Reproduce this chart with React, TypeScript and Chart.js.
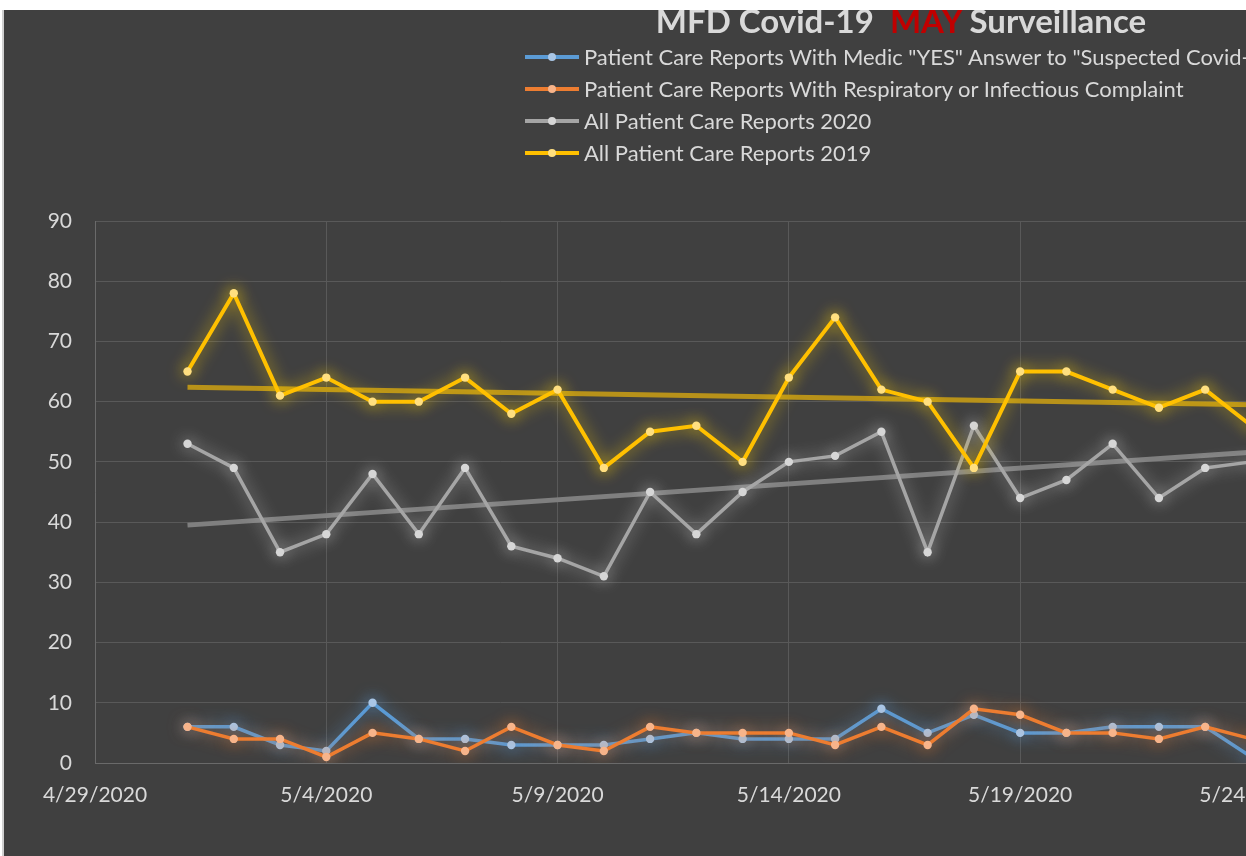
import React, { useEffect, useRef } from "react";
import { Chart, registerables } from "chart.js";

Chart.register(...registerables);

// ---- data ----
const dates = [
  "5/1/2020", "5/2/2020", "5/3/2020", "5/4/2020", "5/5/2020", "5/6/2020",
  "5/7/2020", "5/8/2020", "5/9/2020", "5/10/2020", "5/11/2020", "5/12/2020",
  "5/13/2020", "5/14/2020", "5/15/2020", "5/16/2020", "5/17/2020", "5/18/2020",
  "5/19/2020", "5/20/2020", "5/21/2020", "5/22/2020", "5/23/2020", "5/24/2020",
];
const suspectedCovid = [6, 6, 3, 2, 10, 4, 4, 3, 3, 3, 4, 5, 4, 4, 4, 9, 5, 8, 5, 5, 6, 6, 6, 1];
const respiratory = [6, 4, 4, 1, 5, 4, 2, 6, 3, 2, 6, 5, 5, 5, 3, 6, 3, 9, 8, 5, 5, 4, 6, 4];
const all2020 = [53, 49, 35, 38, 48, 38, 49, 36, 34, 31, 45, 38, 45, 50, 51, 55, 35, 56, 44, 47, 53, 44, 49, 50];
const all2019 = [65, 78, 61, 64, 60, 60, 64, 58, 62, 49, 55, 56, 50, 64, 74, 62, 60, 49, 65, 65, 62, 59, 62, 56];
// linear trend lines: values at first and last date
const trend2019 = [62.4, 59.5];
const trend2020 = [39.5, 51.6];

const seriesNames = [
  'Patient Care Reports With Medic "YES" Answer to "Suspected Covid-19"',
  "Patient Care Reports With Respiratory or Infectious Complaint",
  "All Patient Care Reports 2020",
  "All Patient Care Reports 2019",
];
const axisStart = "4/29/2020";
const axisEnd = "6/3/2020";
const xStepDays = 5;
const yMin = 0;
const yMax = 90;
const yStep = 10;

// ---- helpers ----
const DAY = 86400000;
function toUTC(s: string) {
  const [m, d, y] = s.split("/").map(Number);
  return Date.UTC(y, m - 1, d);
}
const base = toUTC(axisStart);
const dayIndex = (s: string) => Math.round((toUTC(s) - base) / DAY);
const dayLabel = (v: number) => {
  const d = new Date(base + v * DAY);
  return `${d.getUTCMonth() + 1}/${d.getUTCDate()}/${d.getUTCFullYear()}`;
};
const pts = (vals: number[]) => vals.map((y, i) => ({ x: dayIndex(dates[i]), y }));
const trendPts = (t: number[]) => [
  { x: dayIndex(dates[0]), y: t[0] },
  { x: dayIndex(dates[dates.length - 1]), y: t[1] },
];

const colors = {
  blue: "#5B9BD5",
  orange: "#ED7D31",
  gray: "#A5A5A5",
  yellow: "#FFC000",
};
const pointColors = ["#A9C6E6", "#F7B48A", "#D6D6D6", "#FFDF80"];
const lineColors = [colors.blue, colors.orange, colors.gray, colors.yellow];

const glowPlugin = {
  id: "glow",
  beforeDatasetDraw(chart: any, args: any) {
    const ds: any = chart.data.datasets[args.index];
    chart.ctx.save();
    if (ds.glowColor) {
      chart.ctx.shadowColor = ds.glowColor;
      chart.ctx.shadowBlur = ds.glowBlur || 10;
    }
  },
  afterDatasetDraw(chart: any) {
    chart.ctx.restore();
  },
};

const FONT = "Lato";
const TEXT = "#d9d9d9";
const CANVAS_W = 1790;
const CANVAS_H = 846;

export default function App() {
  const ref = useRef<HTMLCanvasElement>(null);

  useEffect(() => {
    const line = (i: number, data: number[], order: number, glow: string, w = 3.5) => ({
      label: seriesNames[i],
      data: pts(data),
      borderColor: lineColors[i],
      borderWidth: w,
      pointRadius: 4.2,
      pointBorderWidth: 0,
      pointBackgroundColor: pointColors[i],
      tension: 0,
      order,
      glowColor: glow,
      glowBlur: 16,
    });
    const chart = new Chart(ref.current as HTMLCanvasElement, {
      type: "line",
      data: {
        datasets: [
          line(3, all2019, 1, "rgba(255,210,0,0.8)", 4),
          {
            label: "trend 2019",
            data: trendPts(trend2019),
            borderColor: "#B8921A",
            borderWidth: 5,
            pointRadius: 0,
            order: 2,
          } as any,
          line(2, all2020, 3, "rgba(235,235,235,0.6)", 3.5),
          {
            label: "trend 2020",
            data: trendPts(trend2020),
            borderColor: "#7F7F7F",
            borderWidth: 5,
            pointRadius: 0,
            order: 4,
          } as any,
          line(1, respiratory, 5, "rgba(237,125,49,0.75)", 3.5),
          line(0, suspectedCovid, 6, "rgba(91,155,213,0.85)", 3.5),
        ] as any,
      },
      options: {
        responsive: false,
        devicePixelRatio: 1,
        animation: false,
        layout: { padding: { left: 0, top: 211, right: 80, bottom: 43 } },
        plugins: {
          legend: { display: false },
          title: { display: false },
          tooltip: { enabled: false },
        },
        scales: {
          x: {
            type: "linear",
            min: dayIndex(axisStart),
            max: dayIndex(axisEnd),
            afterFit: (s: any) => {
              s.height = 50;
            },
            ticks: {
              stepSize: xStepDays,
              padding: 20,
              color: TEXT,
              font: { family: FONT, size: 21 },
              maxRotation: 0,
              autoSkip: false,
              callback: (v: any) => dayLabel(Number(v)),
            },
            grid: { color: "#595959", lineWidth: 1, drawTicks: false },
            border: { color: "#6a6a6a", width: 1 },
          },
          y: {
            min: yMin,
            max: yMax,
            afterFit: (s: any) => {
              s.width = 91;
            },
            ticks: {
              stepSize: yStep,
              padding: 23,
              color: TEXT,
              font: { family: FONT, size: 21 },
            },
            grid: { color: "#595959", lineWidth: 1, drawTicks: false },
            border: { color: "#6a6a6a", width: 1 },
          },
        },
      } as any,
      plugins: [glowPlugin as any],
    });
    return () => chart.destroy();
  }, []);

  return (
    <div
      style={{
        position: "fixed",
        left: 2,
        top: 10,
        width: 1244,
        height: 846,
        borderLeft: "2px solid #d0d0d0",
        boxSizing: "border-box",
        background: "#404040",
        overflow: "hidden",
      }}
    >
      <canvas
        ref={ref}
        width={CANVAS_W}
        height={CANVAS_H}
        style={{ position: "absolute", left: 0, top: 0, width: CANVAS_W, height: CANVAS_H }}
      />
      <div
        style={{
          position: "absolute",
          left: 897,
          top: -6,
          transform: "translateX(-50%)",
          whiteSpace: "nowrap",
          fontFamily: FONT,
          fontWeight: 700,
          fontSize: 33,
          lineHeight: "33px",
          color: TEXT,
        }}
      >
        MFD Covid-19&nbsp;&nbsp;<span style={{ color: "#C00000" }}>MAY</span> Surveillance
      </div>
      <div style={{ position: "absolute", left: 521, top: 31 }}>
        {seriesNames.map((name, i) => (
          <div
            key={i}
            style={{ height: 32, display: "flex", alignItems: "center", whiteSpace: "nowrap" }}
          >
            <div style={{ position: "relative", width: 54, height: 4, background: lineColors[i], flex: "none" }}>
              <div
                style={{
                  position: "absolute",
                  left: 23,
                  top: -2,
                  width: 8,
                  height: 8,
                  borderRadius: 4,
                  background: pointColors[i],
                }}
              />
            </div>
            <span
              style={{
                marginLeft: 5,
                fontFamily: FONT,
                fontSize: 22,
                lineHeight: "32px",
                color: TEXT,
              }}
            >
              {name}
            </span>
          </div>
        ))}
      </div>
    </div>
  );
}
